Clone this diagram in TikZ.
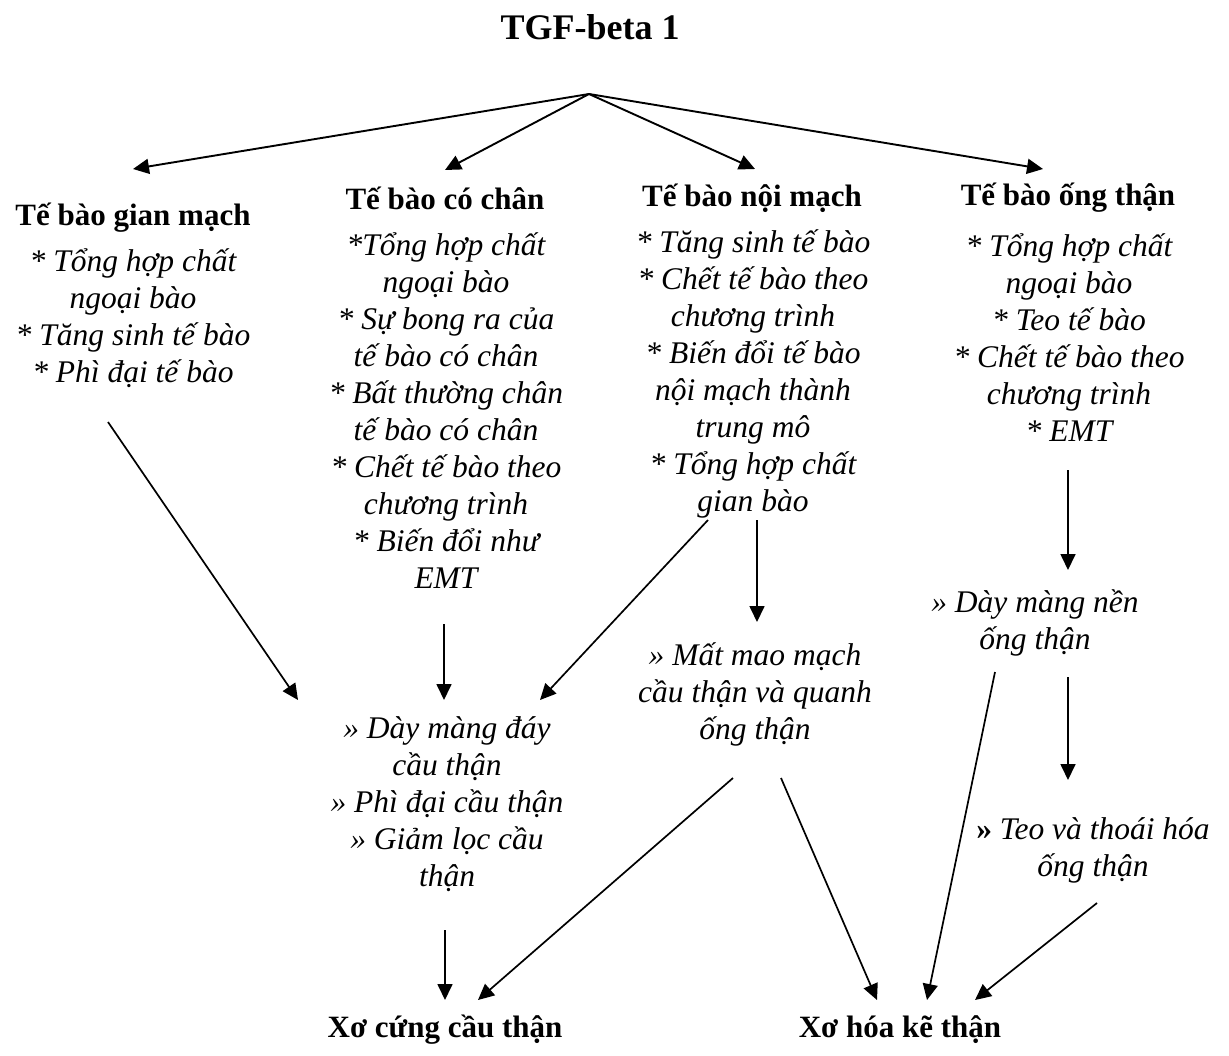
\documentclass[tikz,border=0pt]{standalone}
\usepackage{fontspec}
\setmainfont{Liberation Serif}
\usetikzlibrary{arrows.meta}
\begin{document}
\begin{tikzpicture}[x=1pt,y=-1pt,
  every node/.style={draw=none,inner sep=0pt,align=center},
  toptext/.style={font=\fontsize{36}{42}\selectfont\bfseries},
  heading/.style={font=\fontsize{31}{37}\selectfont\bfseries},
  bullets/.style={font=\fontsize{31.5}{37}\selectfont\itshape},
  link/.style={-{Triangle[length=16pt,width=15pt]},line width=1.7pt},
  branch/.style={link,line width=1.9pt}]
\useasboundingbox (0,0) rectangle (1229,1055);
\path (590,27) node[toptext] (tgf) {TGF-beta 1};
\coordinate (fork) at (589,94);
% cell types
\path (133,218) node[heading] (mes) {Tế bào gian mạch};
\path (445,198) node[heading] (pod) {Tế bào có chân};
\path (752,198) node[heading] (endo) {Tế bào nội mạch};
\path (1068,198) node[heading] (tub) {Tế bào ống thận};
\path (133,318) node[bullets] (mesl) {* Tổng hợp chất\\ngoại bào\\* Tăng sinh tế bào\\* Phì đại tế bào};
\path (446,411) node[bullets] (podl) {*Tổng hợp chất\\ngoại bào\\* Sự bong ra của\\tế bào có chân\\* Bất thường chân\\tế bào có chân\\* Chết tế bào theo\\chương trình\\* Biến đổi như\\EMT};
\path (753,374) node[bullets] (endol) {* Tăng sinh tế bào\\* Chết tế bào theo\\chương trình\\* Biến đổi tế bào\\nội mạch thành\\trung mô\\* Tổng hợp chất\\gian bào};
\path (1069,338) node[bullets] (tubl) {* Tổng hợp chất\\ngoại bào\\* Teo tế bào\\* Chết tế bào theo\\chương trình\\* EMT};
% lesions
\path (447,804) node[bullets] (gbm) {» Dày màng đáy\\cầu thận\\» Phì đại cầu thận\\» Giảm lọc cầu\\thận};
\path (755,694) node[bullets] (cap) {» Mất mao mạch\\cầu thận và quanh\\ống thận};
\path (1035,623) node[bullets] (tbm) {» Dày màng nền\\ống thận};
\path (1093,850) node[bullets] (atr) {{\upshape\bfseries »} Teo và thoái hóa\\ống thận};
% outcomes
\path (445,1030) node[heading] (gs) {Xơ cứng cầu thận};
\path (900,1030) node[heading] (fib) {Xơ hóa kẽ thận};
% arrows
\draw [branch] (fork) -- ([shift={(0,-49)}]mes.center);
\draw [branch] (fork) -- ([shift={(0,-28)}]pod.center);
\draw [branch] (fork) -- ([shift={(3,-29)}]endo.center);
\draw [branch] (fork) -- ([shift={(-25,-29)}]tub.center);
\draw [link] ([shift={(-25,104)}]mesl.center) -- ([shift={(-149,-104)}]gbm.center);
\draw [link] ([shift={(-2,213)}]podl.center) -- ([shift={(-3,-104)}]gbm.center);
\draw [link] ([shift={(-45,146)}]endol.center) -- ([shift={(93,-104)}]gbm.center);
\draw [link] ([shift={(4,146)}]endol.center) -- ([shift={(2,-72)}]cap.center);
\draw [link] ([shift={(-1,132)}]tubl.center) -- ([shift={(33,-53)}]tbm.center);
\draw [link] ([shift={(-2,126)}]gbm.center) -- ([shift={(0,-30)}]gs.center);
\draw [link] ([shift={(-22,84)}]cap.center) -- ([shift={(33,-30)}]gs.center);
\draw [link] ([shift={(26,84)}]cap.center) -- ([shift={(-23,-30)}]fib.center);
\draw [link] ([shift={(-40,49)}]tbm.center) -- ([shift={(27,-30)}]fib.center);
\draw [link] ([shift={(33,54)}]tbm.center) -- ([shift={(-25,-70)}]atr.center);
\draw [link] ([shift={(4,53)}]atr.center) -- ([shift={(75,-30)}]fib.center);
\end{tikzpicture}
\end{document}
